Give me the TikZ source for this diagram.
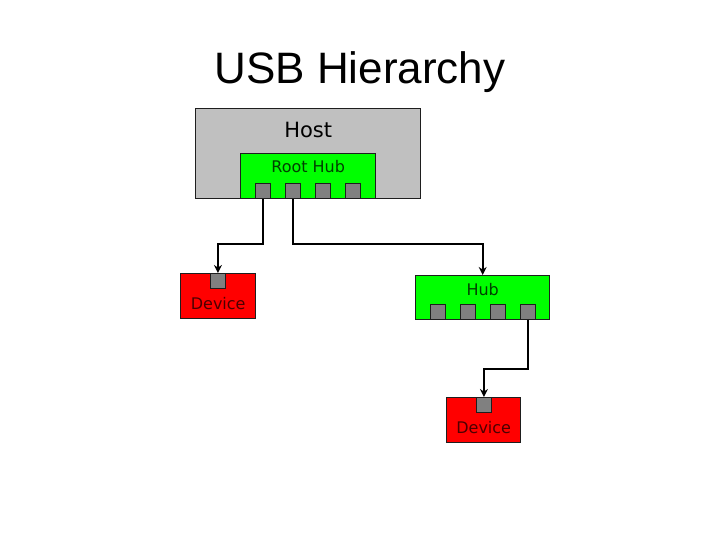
\documentclass[tikz,border=0pt]{standalone}
\usepackage{fontspec}
\setmainfont{Liberation Sans}
\newfontfamily\boxfont{DejaVu Sans}
\usepackage{tikz}
\usetikzlibrary{arrows.meta,positioning}
\definecolor{hostgray}{RGB}{192,192,192}
\definecolor{hubgreen}{RGB}{0,255,0}
\definecolor{devred}{RGB}{255,0,0}
\definecolor{portgray}{RGB}{128,128,128}
\definecolor{edge}{RGB}{30,30,30}

\begin{document}
\begin{tikzpicture}[
    x=1pt, y=-1pt,
    box/.style={rectangle, draw=edge, line width=1.4pt, inner sep=0pt, anchor=north west},
    hostbox/.style={box, fill=hostgray},
    hubbox/.style={box, fill=hubgreen},
    devbox/.style={box, fill=devred},
    port/.style={box, fill=portgray, line width=0.9pt, minimum width=15pt, minimum height=15pt},
    lbl/.style={anchor=base, font=\boxfont\fontsize{16}{18}\selectfont},
    arr/.style={-{Stealth[length=8pt, width=8pt]}, line width=2pt, black}
]
\useasboundingbox (0,0) rectangle (720,540);
\node[anchor=base, font=\fontsize{44}{50}\selectfont] (title) at (360,84) {USB Hierarchy};

% host and root hub
\node[hostbox, minimum width=225pt, minimum height=90pt,
      label={[lbl, font=\boxfont\fontsize{21}{24}\selectfont, yshift=-30pt]north:Host}] (host) at (195,108) {};
\node[hubbox, minimum width=135pt, minimum height=45pt,
      label={[lbl, text=green!25!black, yshift=-20pt]north:Root Hub}] (root) at (240,153) {};
\foreach \i/\x in {1/255, 2/285, 3/315, 4/345}
    \node[port] (rp\i) at (\x,183) {};

% devices and hub
\node[devbox, minimum width=75pt, minimum height=45pt,
      label={[lbl, text=red!30!black, yshift=-36pt]north:Device}] (dev1) at (180,273) {};
\node[port] (dp1) at (210,273) {};

\node[hubbox, minimum width=134pt, minimum height=44pt,
      label={[lbl, text=green!25!black, yshift=-20pt]north:Hub}] (hub) at (415,275) {};
\foreach \i/\x in {1/430, 2/460, 3/490, 4/520}
    \node[port] (hp\i) at (\x,304) {};

\node[devbox, minimum width=74pt, minimum height=45pt,
      label={[lbl, text=red!30!black, yshift=-36pt]north:Device}] (dev2) at (446,397) {};
\node[port] (dp2) at (476,397) {};

\draw[arr] (rp1.south) -- ++(0,45) -| (dp1.north);
\draw[arr] (rp2.south) -- ++(0,45) -| (hub.north);
\draw[arr] (hp4.south) -- ++(0,49) -| (dp2.north);
\end{tikzpicture}
\end{document}
